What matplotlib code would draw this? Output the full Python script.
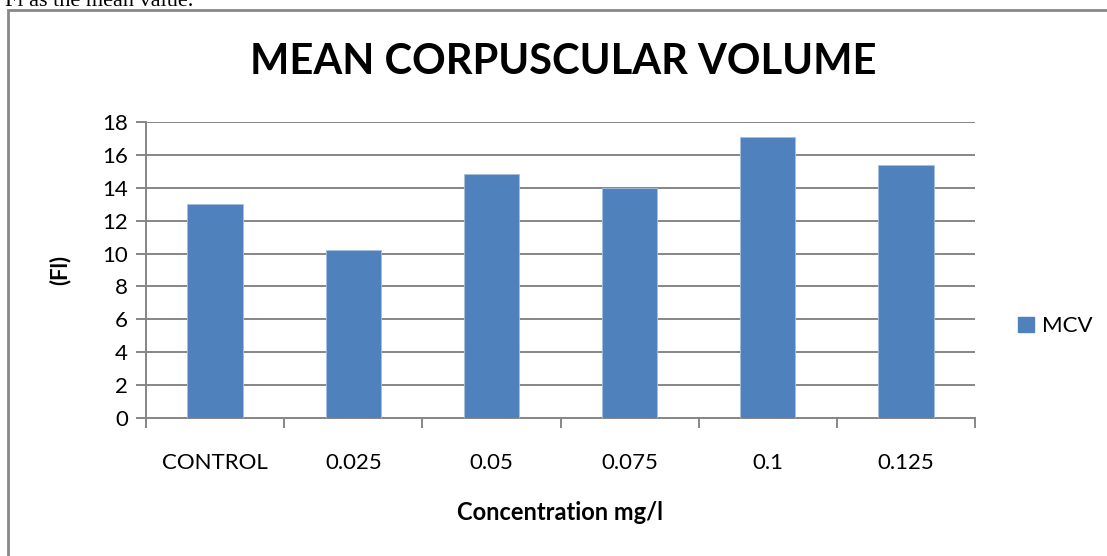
import matplotlib
matplotlib.use("Agg")
import matplotlib.pyplot as plt
from matplotlib.patches import Rectangle, Patch

categories = ["CONTROL", "0.025", "0.05", "0.075", "0.1", "0.125"]
mcv = [13.0, 10.2, 14.85, 14.0, 17.1, 15.4]
yticks = [0, 2, 4, 6, 8, 10, 12, 14, 16, 18]

W, H = 1107, 556
fig = plt.figure(figsize=(W / 100, H / 100), dpi=100)
fig.patch.set_facecolor("white")

font = "Lato"
grey = "#868686"

# document text cut at top
fig.text(193 / W, 1 - 6 / H, "Fl as the mean value.", ha="right", va="baseline",
         fontsize=16, family="Liberation Serif", color="black")

# chart frame
fig.patches.append(Rectangle((8 / W, -0.1), 1.2, 1 - 10 / H + 0.1, transform=fig.transFigure,
                             fill=False, edgecolor="#888888", linewidth=2))

ax = fig.add_axes([146 / W, 1 - 418 / H, (975 - 146) / W, (418 - 122) / H])
x = list(range(len(categories)))
ax.bar(x, mcv, width=0.4, color="#4F81BD", edgecolor="#A7C0DE", linewidth=0.6,
       label="MCV", zorder=3)
ax.set_xlim(-0.5, len(categories) - 0.5)
ax.set_ylim(0, 18)
ax.set_yticks(yticks)
ax.set_yticklabels([str(v) for v in yticks], fontsize=16, family=font)
ax.yaxis.grid(True, color=grey, linewidth=1.4, zorder=0)
ax.set_axisbelow(True)

ax.set_xticks([i - 0.5 for i in range(len(categories) + 1)])
ax.set_xticklabels([])
ax.set_xticks(x, minor=True)
ax.set_xticklabels(categories, minor=True, fontsize=16, family=font)
ax.tick_params(axis="x", which="minor", length=0, pad=25)
ax.tick_params(axis="x", which="major", length=7, color=grey, width=1.4)
ax.tick_params(axis="y", length=7, color=grey, width=1.4, pad=6)

for s in ["top", "right"]:
    ax.spines[s].set_visible(False)
for s in ["left", "bottom"]:
    ax.spines[s].set_color(grey)
    ax.spines[s].set_linewidth(1.4)

ax.set_ylabel("(Fl)", fontsize=16, fontweight="bold", family=font)
ax.set_xlabel("Concentration mg/l", fontsize=17, fontweight="bold", family=font)
ax.xaxis.label.set_va("center")
ax.xaxis.set_label_coords((560 - 146) / (975 - 146), -(513 - 418) / (418 - 122))
ax.yaxis.label.set_va("center")
ax.yaxis.set_label_coords(-(146 - 60) / (975 - 146), 0.5)

fig.text(563 / W, 1 - 62 / H, "MEAN CORPUSCULAR VOLUME", ha="center", va="center",
         fontsize=30, fontweight="bold", family=font)

leg = fig.legend(handles=[Patch(facecolor="#4F81BD", edgecolor="#4F81BD", label="MCV")],
                 loc="center left", bbox_to_anchor=(1014 / W, 1 - 326 / H),
                 frameon=False, prop={"family": font, "size": 16},
                 handlelength=0.68, handleheight=0.68, handletextpad=0.36,
                 borderpad=0.2, borderaxespad=0)

fig.savefig("out.png", dpi=100, facecolor="white")
